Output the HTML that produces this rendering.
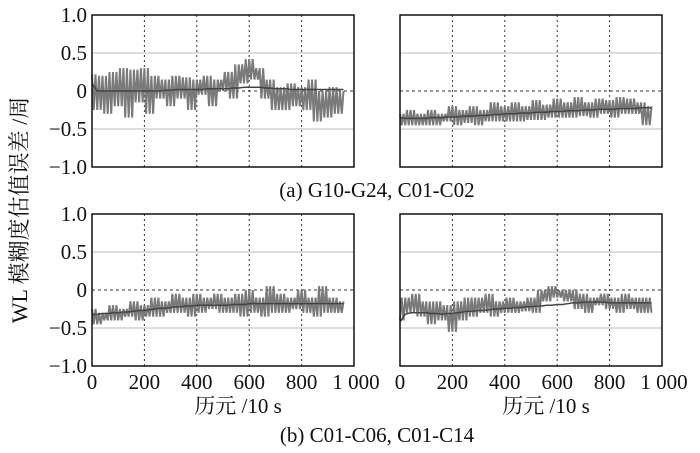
<!DOCTYPE html>
<html><head><meta charset="utf-8"><style>
body{margin:0;background:#fff}
svg text{font-family:"Liberation Serif","Noto Serif CJK SC",serif;fill:#111}
</style></head><body>
<svg id="c" width="700" height="448"></svg>
<script>
const epochs = [0,20,40,60,80,100,120,140,160,180,200,220,240,260,280,300,320,340,360,380,400,420,440,460,480,500,520,540,560,580,600,620,640,660,680,700,720,740,760,780,800,820,840,860,880,900,920,940,960];
const rawA = [0.22,-0.25,0.2,-0.3,0.25,-0.2,0.3,-0.35,0.28,-0.15,0.3,-0.3,0.2,-0.1,0.15,-0.2,0.2,-0.1,0.18,-0.25,0.15,-0.05,0.2,-0.2,0.15,0.0,0.25,-0.1,0.35,0.1,0.42,0.15,0.3,-0.1,0.15,-0.25,0.05,-0.25,0.1,-0.2,0.05,-0.25,0.15,-0.4,0.0,-0.35,0.05,-0.3,0.0];
const meanA = [0.1,0.0,0.0,0.0,0.0,0.0,0.0,0.0,0.0,0.0,0.0,0.0,0.0,0.0,0.01,0.01,0.02,0.02,0.02,0.02,0.02,0.02,0.03,0.03,0.03,0.03,0.03,0.04,0.04,0.05,0.05,0.05,0.05,0.04,0.04,0.03,0.03,0.03,0.02,0.02,0.02,0.02,0.02,0.02,0.02,0.02,0.02,0.02,0.02];
const rawB = [-0.3,-0.45,-0.25,-0.45,-0.3,-0.45,-0.25,-0.45,-0.3,-0.4,-0.2,-0.45,-0.25,-0.42,-0.2,-0.45,-0.25,-0.4,-0.15,-0.4,-0.2,-0.4,-0.15,-0.4,-0.2,-0.38,-0.12,-0.38,-0.18,-0.35,-0.1,-0.35,-0.15,-0.35,-0.08,-0.33,-0.15,-0.35,-0.1,-0.3,-0.12,-0.35,-0.08,-0.3,-0.1,-0.3,-0.15,-0.45,-0.2];
const meanB = [-0.35,-0.36,-0.36,-0.36,-0.36,-0.36,-0.35,-0.35,-0.35,-0.34,-0.34,-0.34,-0.33,-0.33,-0.33,-0.32,-0.32,-0.32,-0.31,-0.31,-0.3,-0.3,-0.3,-0.29,-0.29,-0.29,-0.28,-0.28,-0.28,-0.27,-0.27,-0.27,-0.26,-0.26,-0.26,-0.25,-0.25,-0.25,-0.24,-0.24,-0.24,-0.24,-0.23,-0.23,-0.23,-0.23,-0.22,-0.22,-0.22];
const rawC = [-0.25,-0.45,-0.3,-0.4,-0.2,-0.4,-0.25,-0.35,-0.15,-0.4,-0.2,-0.35,-0.1,-0.35,-0.15,-0.3,-0.05,-0.3,-0.1,-0.35,-0.05,-0.3,-0.1,-0.25,-0.05,-0.3,-0.1,-0.3,-0.05,-0.35,0.0,-0.3,-0.1,-0.35,0.05,-0.3,-0.05,-0.3,-0.1,-0.25,0.0,-0.3,-0.1,-0.35,0.05,-0.3,-0.1,-0.3,-0.15];
const meanC = [-0.32,-0.32,-0.31,-0.31,-0.3,-0.3,-0.29,-0.29,-0.28,-0.27,-0.27,-0.26,-0.25,-0.24,-0.24,-0.23,-0.22,-0.22,-0.21,-0.21,-0.2,-0.2,-0.2,-0.2,-0.2,-0.2,-0.2,-0.19,-0.19,-0.19,-0.18,-0.18,-0.18,-0.18,-0.18,-0.18,-0.18,-0.18,-0.18,-0.18,-0.18,-0.18,-0.18,-0.18,-0.18,-0.18,-0.18,-0.18,-0.18];
const rawD = [-0.4,-0.1,-0.3,-0.05,-0.35,-0.15,-0.45,-0.15,-0.4,-0.2,-0.55,-0.15,-0.4,-0.1,-0.35,-0.1,-0.3,-0.05,-0.35,-0.15,-0.3,-0.1,-0.3,-0.15,-0.28,-0.1,-0.3,0.0,-0.15,0.05,-0.1,0.0,-0.15,0.0,-0.25,-0.05,-0.3,-0.1,-0.2,-0.05,-0.25,-0.1,-0.3,-0.05,-0.25,-0.1,-0.3,-0.1,-0.3];
const meanD = [-0.42,-0.32,-0.3,-0.3,-0.3,-0.3,-0.31,-0.31,-0.32,-0.31,-0.31,-0.3,-0.29,-0.28,-0.28,-0.27,-0.27,-0.26,-0.25,-0.25,-0.24,-0.24,-0.23,-0.23,-0.22,-0.22,-0.21,-0.21,-0.2,-0.2,-0.19,-0.19,-0.18,-0.17,-0.17,-0.16,-0.16,-0.16,-0.16,-0.16,-0.17,-0.17,-0.17,-0.17,-0.17,-0.17,-0.17,-0.17,-0.17];
const yTicks = [1.0,0.5,0,-0.5,-1.0];
const yTickLabels = ["1.0","0.5","0","\u22120.5","\u22121.0"];
const xTicks = [0,200,400,600,800,1000];
const xTickLabels = ["0","200","400","600","800","1 000"];

const NS="http://www.w3.org/2000/svg", svg=document.getElementById('c');
function el(t,a,p){const e=document.createElementNS(NS,t);for(const k in a)e.setAttribute(k,a[k]);(p||svg).appendChild(e);return e;}
const panels=[
 {name:'panel-a-left',x0:92,x1:354,y0:15,y1:167,raw:rawA,mean:meanA,xlab:false,ylab:true},
 {name:'panel-a-right',x0:400,x1:662,y0:15,y1:167,raw:rawB,mean:meanB,xlab:false,ylab:false},
 {name:'panel-b-left',x0:92,x1:354,y0:214,y1:366,raw:rawC,mean:meanC,xlab:true,ylab:true},
 {name:'panel-b-right',x0:400,x1:662,y0:214,y1:366,raw:rawD,mean:meanD,xlab:true,ylab:false}];
panels.forEach(p=>{
 const g=el('g',{});
 
 
 const X=v=>p.x0+(v/1000)*(p.x1-p.x0);
 const Y=v=>p.y0+(1-v)/2*(p.y1-p.y0);
 yTicks.forEach((t,i)=>{
  const l=el('line',{x1:p.x0,x2:p.x1,y1:Y(t),y2:Y(t),stroke:t===0?'#333':'#bbb','stroke-width':1,'stroke-dasharray':t===0?'3,3':'none'},g);
  
  
  if(p.ylab){const tx=el('text',{x:p.x0-5,y:Y(t)+7,'text-anchor':'end','font-size':21},g);tx.textContent=yTickLabels[i];
   
   }
 });
 xTicks.forEach((t,i)=>{
  if(t>0&&t<1000){const l=el('line',{x1:X(t),x2:X(t),y1:p.y0,y2:p.y1,stroke:'#333','stroke-width':1,'stroke-dasharray':'2,3'},g);
   
   }
  if(p.xlab){const tx=el('text',{x:t===1000?X(t)+2:X(t),y:p.y1+23,'text-anchor':'middle','font-size':21},g);tx.textContent=xTickLabels[i];
   
   }
 });
 const pts=[];
 for(let i=0;i<p.raw.length-1;i++){
  const xa=X(epochs[i]), xb=X(epochs[i+1]), a=p.raw[i], b=p.raw[i+1];
  for(let k=0;k<3;k++){
   const xx=xa+(xb-xa)*k/3;
   pts.push(xx+','+Y(k%2===0?a:b));
  }
 }
 pts.push(X(epochs[p.raw.length-1])+','+Y(p.raw[p.raw.length-1]));
 const pr=el('polyline',{points:pts.join(' '),fill:'none',stroke:'#7a7a7a','stroke-width':2,'stroke-linejoin':'miter'},g);
 
 
 const pm=el('polyline',{points:p.mean.map((v,i)=>X(epochs[i])+','+Y(v)).join(' '),fill:'none',stroke:'#444','stroke-width':1.5},g);
 
 
 const r=el('rect',{x:p.x0,y:p.y0,width:p.x1-p.x0,height:p.y1-p.y0,fill:'none',stroke:'#111','stroke-width':1.5},g);
 
 
 if(p.xlab){const tx=el('text',{x:(p.x0+p.x1)/2+15,y:p.y1+47,'text-anchor':'middle','font-size':21},g);tx.textContent='历元 /10 s';
  
  }
});
function cap(x,y,s,n){const t=el('text',{x:x,y:y,'text-anchor':'middle','font-size':21});t.textContent=s;
 
 }
cap(377,197,'(a) G10-G24, C01-C02','caption-a');
cap(377,442,'(b) C01-C06, C01-C14','caption-b');
const yt=el('text',{x:0,y:0,'text-anchor':'middle','font-size':22,transform:'translate(27,210) rotate(-90)'});
yt.textContent='WL 模糊度估值误差 /周';


</script>
</body></html>
